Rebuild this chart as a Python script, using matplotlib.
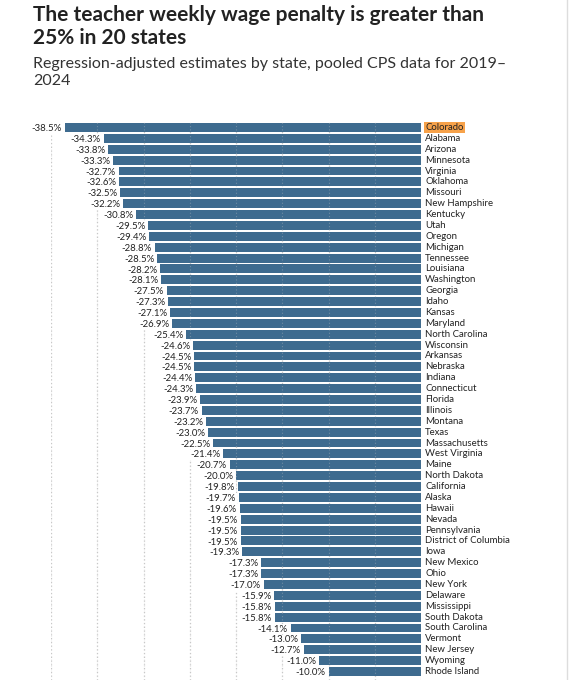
import matplotlib.pyplot as plt

# Data kiri ke kanan: urutan dari penalti terbesar
negara_bagian = [
    "Colorado", "Alabama", "Arizona", "Minnesota", "Virginia", "Oklahoma",
    "Missouri", "New Hampshire", "Kentucky", "Utah", "Oregon", "Michigan",
    "Tennessee", "Louisiana", "Washington", "Georgia", "Idaho", "Kansas",
    "Maryland", "North Carolina", "Wisconsin", "Arkansas", "Nebraska",
    "Indiana", "Connecticut", "Florida", "Illinois", "Montana", "Texas",
    "Massachusetts", "West Virginia", "Maine", "North Dakota", "California",
    "Alaska", "Hawaii", "Nevada", "Pennsylvania", "District of Columbia",
    "Iowa", "New Mexico", "Ohio", "New York", "Delaware", "Mississippi",
    "South Dakota", "South Carolina", "Vermont", "New Jersey", "Wyoming",
    "Rhode Island",
]
penalti = [
    -38.5, -34.3, -33.8, -33.3, -32.7, -32.6, -32.5, -32.2, -30.8, -29.5,
    -29.4, -28.8, -28.5, -28.2, -28.1, -27.5, -27.3, -27.1, -26.9, -25.4,
    -24.6, -24.5, -24.5, -24.4, -24.3, -23.9, -23.7, -23.2, -23.0, -22.5,
    -21.4, -20.7, -20.0, -19.8, -19.7, -19.6, -19.5, -19.5, -19.5, -19.3,
    -17.3, -17.3, -17.0, -15.9, -15.8, -15.8, -14.1, -13.0, -12.7, -11.0,
    -10.0,
]
sorotan = "Colorado"
garis_grid = [-40, -35, -30, -25, -20, -15, -10, -5]

plt.rcParams['font.family'] = ['Lato', 'DejaVu Sans']

W, H = 570, 680
fig = plt.figure(figsize=(W / 100, H / 100), dpi=100)

# Judul dan subjudul
fig.text(33 / W, 1 - 5 / H, "The teacher weekly wage penalty is greater than\n25% in 20 states",
         fontsize=15, fontweight="bold", color="#222222", va="top", linespacing=1.18)
fig.text(33 / W, 1 - 57 / H, "Regression-adjusted estimates by state, pooled CPS data for 2019\u2013\n2024",
         fontsize=11.5, color="#333333", va="top", linespacing=1.28)

# Sumbu: x=-40 di px 51, x=0 di px 421
pitch = 10.88
y_awal = 127.5
top_px = y_awal - 0.5 * pitch
ax = fig.add_axes([51 / W, 0, 370 / W, 1 - top_px / H])
n_bawah = (H - y_awal) / pitch
posisi = list(range(len(negara_bagian)))

ax.barh(posisi, penalti, height=0.82, color="#3e6b8f", zorder=2)
for g in garis_grid:
    ax.axvline(g, color="#c8c8c8", linestyle=(0, (1, 2)), linewidth=0.9, zorder=1)
    ax.axvline(g, color="#c8c8c8", linestyle=(0, (1, 2)), linewidth=0.8, alpha=0.35, zorder=3)
ax.axvline(0, color="#999999", linewidth=0.8, zorder=4)

for i, (nama, nilai) in enumerate(zip(negara_bagian, penalti)):
    ax.text(nilai - 0.3, i + 0.1, f"{nilai:.1f}%", ha="right", va="center",
            fontsize=6.9, color="#222222", zorder=5,
            bbox=dict(facecolor="white", edgecolor="none", pad=0.6))
    kotak = None
    if nama == sorotan:
        kotak = dict(facecolor="#f7a24a", edgecolor="none", pad=0.8)
    ax.text(0.45, i, nama, ha="left", va="center", fontsize=6.9,
            color="#222222", clip_on=False, bbox=kotak)

ax.set_xlim(-40, 0)
ax.set_ylim(n_bawah, -0.5)
ax.axis("off")

# Garis tepi kanan tangkapan layar
fig.add_artist(plt.Line2D([567 / W, 567 / W], [0, 1], color="#dddddd", linewidth=1))

fig.savefig("out.png", dpi=100)
